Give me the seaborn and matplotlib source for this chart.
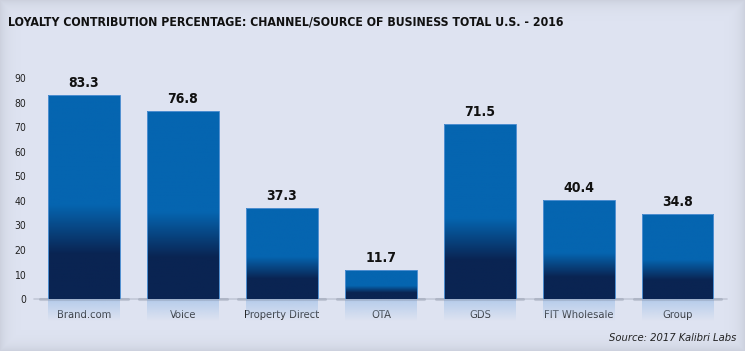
import numpy as np
import matplotlib
matplotlib.use("Agg")
import matplotlib.pyplot as plt
import seaborn as sns
from matplotlib.colors import LinearSegmentedColormap
from matplotlib.patches import Rectangle

# data
channels = ["Brand.com", "Voice", "Property Direct", "OTA", "GDS", "FIT Wholesale", "Group"]
loyalty_pct = [83.3, 76.8, 37.3, 11.7, 71.5, 40.4, 34.8]
y_ticks = [0, 10, 20, 30, 40, 50, 60, 70, 80, 90]

title = "LOYALTY CONTRIBUTION PERCENTAGE: CHANNEL/SOURCE OF BUSINESS TOTAL U.S. - 2016"
source = "Source: 2017 Kalibri Labs"

blue = "#0565b0"
navy = "#0a2452"
bg = "#dfe4f2"

sns.set_theme(style="white")
plt.rcParams['font.family'] = ['DejaVu Sans']
plt.rcParams['font.stretch'] = 'condensed'

fig = plt.figure(figsize=(7.45, 3.51), dpi=100)
fig.patch.set_facecolor(bg)

# soft vignette behind everything
bg_ax = fig.add_axes([0, 0, 1, 1], zorder=0)
ny, nx = 351, 745
yy, xx = np.mgrid[0:ny, 0:nx]
d = np.minimum.reduce([xx, nx - 1 - xx, yy + 0.0, ny - 1 - yy])
shade = np.exp(-d / 7.0) * 0.08
base = np.array([0xdf, 0xe4, 0xf2]) / 255.0
img = base[None, None, :] * (1 - shade[..., None])
bg_ax.imshow(img, aspect="auto", extent=[0, 1, 0, 1], origin="upper")
bg_ax.axis("off")

ax = fig.add_axes([0.0463, 0.148, 0.930, 0.664], zorder=1)
ax.set_facecolor("none")

sns.barplot(x=channels, y=loyalty_pct, ax=ax, width=0.72, color=blue,
            linewidth=0, saturation=1)

cmap = LinearSegmentedColormap.from_list(
    "bar", [(0, navy), (0.22, navy), (0.46, blue), (1, blue)])
grad = np.linspace(0, 1, 256).reshape(-1, 1)
refl = np.zeros((64, 1, 4))
refl[..., :3] = np.array([0xae, 0xc8, 0xea]) / 255.0
refl[:, 0, 3] = np.linspace(0.9, 0.0, 64)

for p, v in zip(ax.patches, loyalty_pct):
    x0, w = p.get_x(), p.get_width()
    im = ax.imshow(grad, cmap=cmap, origin="lower", aspect="auto",
                   extent=[x0, x0 + w, 0, v], zorder=2)
    im.set_clip_path(p)
    ax.add_patch(Rectangle((x0, 0), w, v, fill=False, edgecolor="#4f8fd0",
                           linewidth=0.7, zorder=3))
    # reflection under the bar
    ax.imshow(refl, origin="upper", aspect="auto",
              extent=[x0, x0 + w, -9, 0], zorder=1, clip_on=False)
    # shadow at the base
    ax.plot([x0 - 0.08, x0 + w + 0.08], [0, 0], color="#7d8496", lw=2.2,
            alpha=0.3, solid_capstyle="round", zorder=1, clip_on=False)
    ax.text(x0 + w / 2, v + 2.0, f"{v}", ha="center", va="bottom",
            fontsize=10, fontweight="bold", color="#111111")

ax.axhline(0, color="#a7adbd", lw=1.2, alpha=0.5, zorder=0, clip_on=False)

ax.set_ylim(0, 95)
ax.set_xlim(-0.5, len(channels) - 0.5)
ax.set_yticks(y_ticks)
ax.tick_params(axis="y", length=0, pad=6, labelsize=7.5, labelcolor="#222222")
ax.tick_params(axis="x", length=0, pad=8, labelsize=8, labelcolor="#222222")
ax.set_xlabel("")
ax.set_ylabel("")
sns.despine(ax=ax, left=True, bottom=True)

fig.text(8 / 745, 1 - 22 / 351, title, ha="left", va="center",
         fontsize=8.8, fontweight="bold", color="#111111")
fig.text(736 / 745, 1 - 338 / 351, source, ha="right", va="center",
         fontsize=8, style="italic", color="#222222")

fig.savefig("out.png", dpi=100, facecolor=bg)
